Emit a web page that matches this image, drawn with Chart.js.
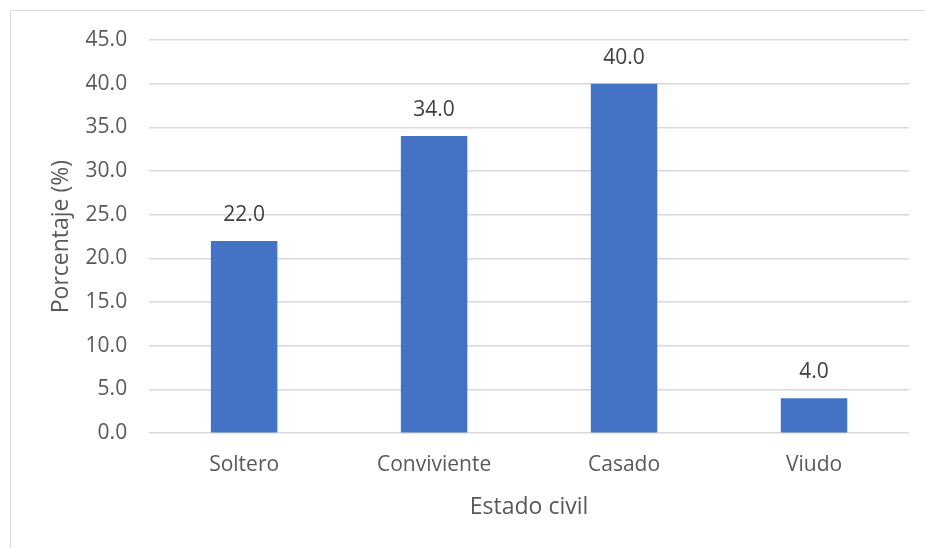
<!DOCTYPE html>
<html>
<head>
<meta charset="utf-8">
<script src="https://cdn.jsdelivr.net/npm/chart.js@4/dist/chart.umd.min.js"></script>
<style>
  html, body { margin: 0; padding: 0; background: #fff; }
  #wrap { position: relative; width: 925px; height: 548px; }
  #frame { position: absolute; left: 10px; top: 10px; right: 0; bottom: 0;
           border-top: 1px solid #d9d9d9; border-left: 1px solid #d9d9d9; }
  canvas { position: absolute; left: 0; top: 0; }
</style>
</head>
<body>
<div id="wrap">
  <div id="frame"></div>
  <canvas id="chart" width="925" height="548"></canvas>
</div>
<script>
// --- chart data ---
const categories = ['Soltero', 'Conviviente', 'Casado', 'Viudo'];
const percentages = [22.0, 34.0, 40.0, 4.0];
const yTicks = [0, 5, 10, 15, 20, 25, 30, 35, 40, 45];

const FONT = '"Open Sans", "Liberation Sans", sans-serif';

// draws the value above each bar
const valueLabels = {
    id: 'valueLabels',
    afterDatasetsDraw(chart) {
        const ctx = chart.ctx;
        const meta = chart.getDatasetMeta(0);
        ctx.save();
        ctx.font = '21px ' + FONT;
        ctx.fillStyle = '#404040';
        ctx.textAlign = 'center';
        ctx.textBaseline = 'alphabetic';
        meta.data.forEach((bar, i) => {
            ctx.fillText(percentages[i].toFixed(1), bar.x, bar.y - 20);
        });
        ctx.restore();
    }
};

new Chart(document.getElementById('chart'), {
    type: 'bar',
    data: {
        labels: categories,
        datasets: [{
            data: percentages,
            backgroundColor: '#4472c4',
            categoryPercentage: 1.0,
            barPercentage: 0.35
        }]
    },
    options: {
        responsive: false,
        animation: false,
        layout: { padding: { top: 40, right: 16, bottom: 27, left: 28 } },
        plugins: {
            legend: { display: false },
            tooltip: { enabled: false }
        },
        scales: {
            x: {
                grid: { display: false, drawTicks: false },
                border: { display: false },
                ticks: { color: '#595959', font: { family: FONT, size: 21 }, padding: 19 },
                title: { display: true, text: 'Estado civil', color: '#595959',
                         font: { family: FONT, size: 23 }, padding: { top: -3, bottom: 0 } }
            },
            y: {
                min: 0,
                max: 45,
                afterBuildTicks(axis) { axis.ticks = yTicks.map(v => ({ value: v })); },
                grid: { color: '#d9d9d9', lineWidth: 1.5, drawTicks: false },
                border: { display: false },
                ticks: { color: '#595959', font: { family: FONT, size: 21 }, padding: 22,
                         callback: v => v.toFixed(1) },
                title: { display: true, text: 'Porcentaje (%)', color: '#595959',
                         font: { family: FONT, size: 23 }, padding: { top: 20, bottom: -12 } }
            }
        }
    },
    plugins: [valueLabels]
});
</script>
</body>
</html>
